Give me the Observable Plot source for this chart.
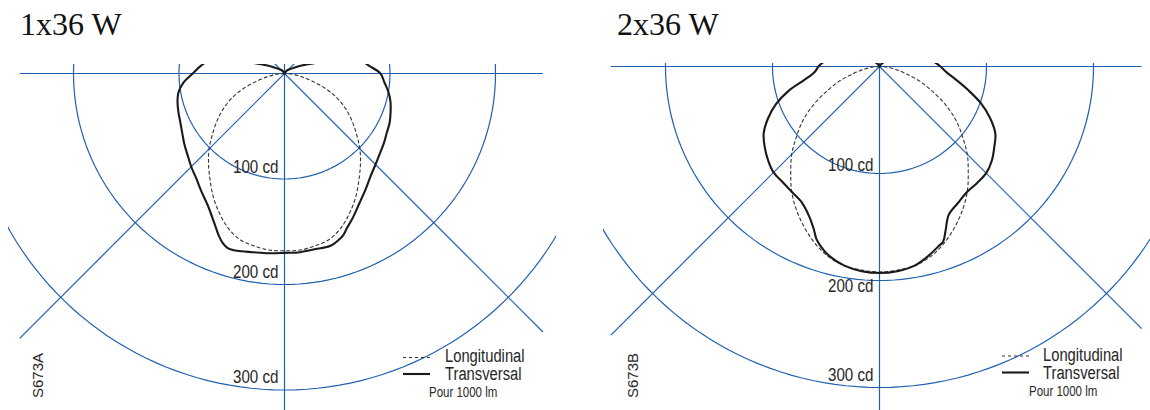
<!DOCTYPE html>
<html>
<head>
<meta charset="utf-8">
<script src="https://cdn.jsdelivr.net/npm/d3@7"></script>
<script src="https://cdn.jsdelivr.net/npm/@observablehq/plot@0.6"></script>
<style>
  html, body { margin: 0; padding: 0; background: #fff; width: 1150px; height: 410px; overflow: hidden; }
  #root { position: relative; width: 1150px; height: 410px; }
  .chart { position: absolute; overflow: hidden; }
  #overlay { position: absolute; left: 0; top: 0; pointer-events: none; }
</style>
</head>
<body>
<div id="root"></div>
<script>
// ---------- data ----------
const titles = ["1x36 W", "2x36 W"];
const codes = ["S673A", "S673B"];
const gridRadii = [100, 200, 300];
const gridLabels = ["100 cd", "200 cd", "300 cd"];
const legendLabels = ["Longitudinal", "Transversal"];
const legendNote = "Pour 1000 lm";

// longitudinal curves (symmetric), angle from nadir in degrees -> cd
const longAngles = [0, 5, 10, 15, 20, 25, 30, 35, 40, 45, 50, 55, 60, 65, 70, 75, 80, 85, 90];
const long1x36 = [168, 168, 166, 163, 156, 146, 135, 123, 112, 101, 89, 78, 67, 55, 41, 26, 15, 6, 0];
const long2x36 = [192, 191, 189, 184, 176, 166, 155, 143, 129, 116, 101, 87, 71, 54, 40, 25, 15, 6, 0];

// transversal curves, angle from nadir in degrees -> cd (left side / right side)
const transAngles = [0, 5, 10, 15, 18, 20, 22, 25, 30, 35, 40, 45, 50, 55, 60, 65, 70, 75, 80, 85, 90, 95, 100, 105, 110, 115, 120, 135, 150, 180];
const trans1x36Left  = [170, 171, 172, 174, 174, 171, 166, 157, 145, 137, 130, 125, 120, 116, 112, 109, 107, 105, 102, 96, 87, 80, 72, 52, 27, 18, 12, 5, 2, 0];
const trans1x36Right = [170, 170, 169, 169, 166, 163, 158, 152, 142, 134, 127, 122, 118, 115, 112, 110, 107, 104, 100, 95, 91, 81, 72, 52, 27, 18, 12, 5, 2, 0];
const trans2x36Left  = [193, 192, 189, 183, 177, 172, 164, 155, 146, 143, 141, 140, 136, 131, 125, 115, 103, 88, 71, 61, 57, 52, 45, 38, 30, 22, 15, 6, 2, 0];
const trans2x36Right = [193, 192, 189, 182, 177, 174, 165, 153, 147, 143, 142, 141, 137, 131, 125, 114, 101, 86, 73, 63, 57, 51, 45, 38, 30, 22, 15, 6, 2, 0];

// ---------- styling / layout ----------
const BLUE = "#2060b0";
const LABEL_FONT = '"Liberation Sans", Arial, sans-serif';
const NARROW = 0.82;
const hExtent = [-251, 245];

const charts = [
  { title: titles[0], code: codes[0], long: long1x36, tL: trans1x36Left, tR: trans1x36Right,
    box: {left: 8, top: 64, width: 548, height: 346}, center: [276, 9], k: 1.055,
    labelDy: [-6, -7, -7], titleX: 20 },
  { title: titles[1], code: codes[1], long: long2x36, tL: trans2x36Left, tR: trans2x36Right,
    box: {left: 603, top: 63, width: 547, height: 347}, center: [276, 3], k: 1.07,
    labelDy: [-3, 11, -7], titleX: 617 }
];

function polarXY(angle, r) {
  const t = angle * Math.PI / 180;
  return {x: r * Math.sin(t), y: -r * Math.cos(t)};
}
function curvePoints(angles, left, right) {
  const pts = [];
  for (let i = angles.length - 1; i >= 0; i--) pts.push(polarXY(-angles[i], left[i]));
  for (let i = 1; i < angles.length; i++) pts.push(polarXY(angles[i], right[i]));
  return pts;
}

function makePlot(c) {
  const {width, height} = c.box;
  const [cx, cy] = c.center;
  const k = c.k;
  const circles = gridRadii.flatMap(r => d3.range(0, 361, 2).map(a => ({r, ...polarXY(a, r)})));
  const gridLines = [
    {x1: hExtent[0], y1: 0, x2: hExtent[1], y2: 0},
    {x1: 0, y1: -400, x2: 0, y2: 40},
    {x1: hExtent[0], y1: hExtent[0], x2: 40, y2: 40},
    {x1: hExtent[1], y1: -hExtent[1], x2: -40, y2: 40}
  ];
  const longPts = curvePoints(longAngles, c.long, c.long);
  const transPts = curvePoints(transAngles, c.tL, c.tR);
  const labelMarks = gridRadii.map((r, i) =>
    Plot.text([r], {x: 0, y: d => -d, text: () => gridLabels[i], textAnchor: "end", lineAnchor: "bottom",
      dx: -6, dy: c.labelDy[i], fontSize: 18.5, fontFamily: LABEL_FONT, fill: "#262626"}));
  return Plot.plot({
    width, height, margin: 0,
    x: {domain: [-cx / k, (width - cx) / k], axis: null},
    y: {domain: [-(height - cy) / k, cy / k], axis: null},
    style: {background: "transparent", overflow: "hidden"},
    marks: [
      Plot.link(gridLines, {x1: "x1", y1: "y1", x2: "x2", y2: "y2", stroke: BLUE, strokeWidth: 1.2, clip: true}),
      Plot.line(circles, {x: "x", y: "y", z: "r", stroke: BLUE, strokeWidth: 1.2, clip: true}),
      Plot.line(longPts, {x: "x", y: "y", stroke: "#333", strokeWidth: 1.1, strokeDasharray: "3,3", curve: "catmull-rom", clip: true}),
      Plot.line(transPts, {x: "x", y: "y", stroke: "#1a1a1a", strokeWidth: 2.1, curve: "catmull-rom", clip: true}),
      ...labelMarks
    ]
  });
}

const root = document.getElementById("root");
charts.forEach(c => {
  const svg = makePlot(c);
  const wrap = document.createElement("div");
  wrap.className = "chart";
  wrap.style.left = c.box.left + "px";
  wrap.style.top = c.box.top + "px";
  wrap.style.width = c.box.width + "px";
  wrap.style.height = c.box.height + "px";
  wrap.appendChild(svg);
  root.appendChild(wrap);
});

// overlay: titles, legends, codes
const ov = d3.select(root).append("svg").attr("id", "overlay").attr("width", 1150).attr("height", 410);
charts.forEach((c, ci) => {
  const cxPage = c.box.left + c.center[0];
  ov.append("text").attr("x", c.titleX).attr("y", 35)
    .attr("font-family", '"Liberation Serif", "Times New Roman", serif').attr("font-size", 32).attr("fill", "#111")
    .text(c.title);
  // legend
  const lx = cxPage + (ci === 0 ? 119 : 123);
  const tx = cxPage + (ci === 0 ? 161 : 164);
  const by = ci === 0 ? 0 : -1.5;
  ov.append("line").attr("x1", lx).attr("x2", lx + 27).attr("y1", 357.5 + by).attr("y2", 357.5 + by)
    .attr("stroke", "#333").attr("stroke-width", 1.1).attr("stroke-dasharray", "3,3");
  ov.append("line").attr("x1", lx).attr("x2", lx + 27).attr("y1", 374 + by).attr("y2", 374 + by)
    .attr("stroke", "#1a1a1a").attr("stroke-width", 2.1);
  legendLabels.forEach((t, i) => {
    ov.append("text").attr("class", "narrow").attr("x", tx).attr("y", 362 + by + i * 18)
      .attr("font-family", LABEL_FONT).attr("font-size", 18).attr("fill", "#262626").text(t);
  });
  ov.append("text").attr("class", "narrow").attr("x", cxPage + (ci === 0 ? 145 : 150)).attr("y", 397 + by)
    .attr("font-family", LABEL_FONT).attr("font-size", 14).attr("fill", "#262626").text(legendNote);
  // code
  ov.append("text").attr("transform", `translate(${cxPage - 241},398) rotate(-90)`)
    .attr("font-family", LABEL_FONT).attr("font-size", 15).attr("fill", "#262626")
    .text(c.code);
});

// condensed look: compress label glyphs horizontally
d3.selectAll(".chart svg g[aria-label='text'] text, #overlay text.narrow").each(function () {
  const len = this.getComputedTextLength();
  if (len > 0) {
    this.setAttribute("textLength", (len * NARROW).toFixed(1));
    this.setAttribute("lengthAdjust", "spacingAndGlyphs");
  }
});
</script>
</body>
</html>
